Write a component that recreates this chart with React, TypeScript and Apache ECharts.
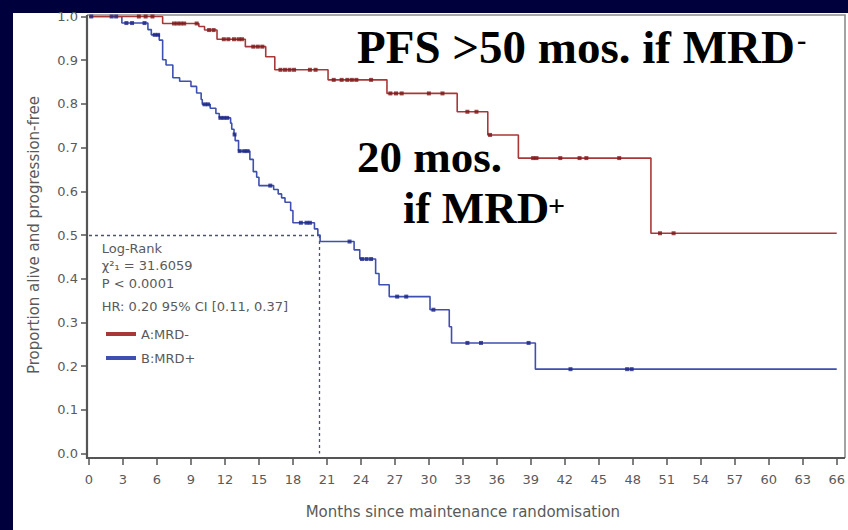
import React, { useEffect, useRef } from "react";
import * as echarts from "echarts";

// ---- Data (Kaplan-Meier PFS by MRD status) ----
const xTickMonths = [0, 66, 3]; // min, max, interval
const yAxisRange = [0, 1, 0.1];

// MRD-negative (A:MRD-): step times (months) and survival after each step
const mrdNegTimes = [0, 6.5, 9.7, 10.2, 11.3, 13.8, 15.6, 16.4, 21.1, 26.3, 32.5, 35.2, 37.9, 49.6, 66];
const mrdNegSurv = [1.0, 0.984, 0.977, 0.969, 0.948, 0.931, 0.908, 0.878, 0.855, 0.824, 0.782, 0.729, 0.676, 0.504, 0.504];
const mrdNegCensored = [4.4, 5.0, 5.6, 7.5, 7.8, 8.1, 8.4, 9.5, 10.6, 11.0, 11.9, 12.3, 12.8, 13.2, 13.5, 14.5, 14.9, 15.3,
  16.9, 17.3, 17.7, 18.1, 19.5, 20.0, 21.6, 22.3, 22.8, 23.2, 23.6, 24.9, 26.6, 27.1, 27.6, 30.0, 31.2, 33.4, 34.2, 35.4,
  39.2, 39.5, 41.6, 43.3, 43.9, 46.8, 50.4, 51.6];

// MRD-positive (B:MRD+)
const mrdPosTimes = [0, 2.9, 5.2, 5.5, 6.2, 6.5, 6.8, 7.4, 8.0, 9.0, 9.5, 9.9, 10.0, 10.7, 11.2, 11.5, 12.5, 12.6, 12.8, 12.9,
  13.2, 14.2, 14.5, 14.8, 15.0, 16.3, 16.7, 17.0, 17.3, 17.8, 18.0, 19.9, 20.2, 20.4, 23.4, 23.9, 25.3, 25.6, 26.5, 30.1,
  31.8, 32.0, 39.4, 66];
const mrdPosSurv = [1.0, 0.985, 0.970, 0.958, 0.946, 0.901, 0.889, 0.860, 0.852, 0.840, 0.825, 0.810, 0.799, 0.790, 0.778, 0.768, 0.756, 0.742, 0.730, 0.716,
  0.692, 0.673, 0.645, 0.632, 0.613, 0.604, 0.594, 0.585, 0.575, 0.556, 0.528, 0.514, 0.500, 0.485, 0.466, 0.445, 0.412, 0.386, 0.359, 0.329,
  0.290, 0.253, 0.193, 0.193];
const mrdPosCensored = [0.2, 2.0, 2.4, 3.3, 3.8, 4.9, 5.8, 6.1, 10.2, 10.5, 11.6, 11.9, 12.2, 12.85, 13.3, 13.7, 14.0, 16.0,
  18.7, 19.2, 19.5, 23.0, 24.1, 24.5, 24.9, 27.2, 28.0, 30.4, 33.4, 34.6, 38.8, 42.5, 47.5, 47.9];

const medianMrdPos = 20.3;
const medianLevel = 0.5;

const seriesNames = ["A:MRD-", "B:MRD+"];
const statLines = ["Log-Rank", "χ²₁ = 31.6059", "P < 0.0001", "HR: 0.20 95% CI [0.11, 0.37]"];
const xAxisTitle = "Months since maintenance randomisation";
const yAxisTitle = "Proportion alive and progression-free";
const noteTop = "PFS >50 mos. if MRD";
const noteTopSup = "-";
const noteMid = "20 mos.";
const noteLow = "if MRD";
const noteLowSup = "+";

function survAt(times: number[], surv: number[], t: number) {
  let v = surv[0];
  for (let i = 0; i < times.length; i++) {
    if (times[i] <= t) v = surv[i];
  }
  return v;
}

const RED = "#a83838";
const RED_DARK = "#7a1818";
const BLUE = "#3f4fb0";
const BLUE_DARK = "#1c2585";
const GRAY_TXT = "#5a5a5a";
const SANS = "DejaVu Sans";
const SERIF = "Liberation Serif";

function txt(x: number, y: number, text: string, size: number, opts: any = {}) {
  return {
    type: "text",
    x,
    y,
    silent: true,
    style: {
      text,
      fill: opts.fill || GRAY_TXT,
      fontSize: size,
      fontFamily: opts.family || SANS,
      fontWeight: opts.weight || "normal",
      lineHeight: opts.lineHeight || undefined,
      align: opts.align || "left",
      verticalAlign: "middle",
      textAlign: opts.align || "left",
      textVerticalAlign: "middle",
    },
  };
}

export default function App() {
  const ref = useRef<HTMLDivElement>(null);

  useEffect(() => {
    if (!ref.current) return;
    const chart = echarts.init(ref.current, undefined, { renderer: "svg" });

    const negLine = mrdNegTimes.map((t, i) => [t, mrdNegSurv[i]]);
    const posLine = mrdPosTimes.map((t, i) => [t, mrdPosSurv[i]]);
    const negCens = mrdNegCensored.map((t) => [t, survAt(mrdNegTimes, mrdNegSurv, t)]);
    const posCens = mrdPosCensored.map((t) => [t, survAt(mrdPosTimes, mrdPosSurv, t)]);

    const big = { family: SERIF, weight: "bold", fill: "#000", lineHeight: 34 };
    const sup = { family: SERIF, weight: "bold", fill: "#000", lineHeight: 18 };

    const option: any = {
      animation: false,
      backgroundColor: "transparent",
      grid: { left: 89, right: 5, top: 16.5, bottom: 76.5, containLabel: false },
      xAxis: {
        type: "value",
        min: xTickMonths[0],
        max: xTickMonths[1],
        interval: xTickMonths[2],
        offset: 4.5,
        name: xAxisTitle,
        nameLocation: "middle",
        nameGap: 46,
        nameTextStyle: { fontFamily: SANS, fontSize: 15, color: GRAY_TXT },
        axisLine: { show: false, onZero: false },
        axisTick: { show: true, length: 7, lineStyle: { color: "#555", width: 1.5 } },
        axisLabel: { margin: 15, fontFamily: SANS, fontSize: 13, color: GRAY_TXT },
        splitLine: { show: false },
      },
      yAxis: {
        type: "value",
        min: yAxisRange[0],
        max: yAxisRange[1],
        interval: yAxisRange[2],
        offset: 2,
        name: yAxisTitle,
        nameLocation: "middle",
        nameGap: 46,
        nameTextStyle: { fontFamily: SANS, fontSize: 15, color: GRAY_TXT },
        axisLine: { show: false, onZero: false },
        axisTick: { show: true, length: 6, lineStyle: { color: "#555", width: 1.5 } },
        axisLabel: {
          margin: 9,
          fontFamily: SANS,
          fontSize: 13,
          color: GRAY_TXT,
          formatter: (v: number) => v.toFixed(1),
        },
        splitLine: { show: false },
      },
      legend: {
        data: seriesNames,
        orient: "vertical",
        left: 101,
        top: 321,
        itemWidth: 30,
        itemHeight: 4,
        itemGap: 8,
        icon: "rect",
        selectedMode: false,
        textStyle: { fontFamily: SANS, fontSize: 13, color: GRAY_TXT, lineHeight: 16 },
      },
      series: [
        {
          name: seriesNames[1],
          type: "line",
          step: "end",
          data: posLine,
          showSymbol: false,
          color: BLUE,
          lineStyle: { color: BLUE, width: 1.6 },
          z: 3,
          markLine: {
            silent: true,
            symbol: ["none", "none"],
            label: { show: false },
            lineStyle: { color: "#4a5078", type: [3, 3], width: 1.3 },
            data: [
              [{ coord: [0, medianLevel] }, { coord: [medianMrdPos, medianLevel] }],
              [{ coord: [medianMrdPos, medianLevel] }, { coord: [medianMrdPos, 0] }],
            ],
          },
        },
        {
          name: seriesNames[0],
          type: "line",
          step: "end",
          data: negLine,
          showSymbol: false,
          color: RED,
          lineStyle: { color: RED, width: 1.6 },
          z: 3,
        },
        {
          name: "censorPos",
          type: "scatter",
          data: posCens,
          symbol: "rect",
          symbolSize: [4, 4],
          itemStyle: { color: BLUE_DARK },
          z: 4,
        },
        {
          name: "censorNeg",
          type: "scatter",
          data: negCens,
          symbol: "rect",
          symbolSize: [4, 4],
          itemStyle: { color: RED_DARK },
          z: 4,
        },
      ],
      graphic: [
        {
          type: "polyline",
          silent: true,
          shape: { points: [[87, 15], [845, 15], [845, 458]] },
          style: { stroke: "#8c8c8c", lineWidth: 1.6, fill: null },
        },
        {
          type: "polyline",
          silent: true,
          shape: { points: [[87, 15], [87, 458], [845, 458]] },
          style: { stroke: "#555555", lineWidth: 2.2, fill: null },
        },
        txt(101.7, 248, statLines[0], 13),
        txt(101.7, 265.5, statLines[1], 13),
        txt(101.7, 283.5, statLines[2], 13),
        txt(101.7, 306, statLines[3], 13),
        txt(357, 47, noteTop, 47, big),
        txt(797, 39, noteTopSup, 28, sup),
        txt(357, 157, noteMid, 45, big),
        txt(403, 207.5, noteLow, 45, big),
        txt(548, 205, noteLowSup, 30, sup),
      ],
    };

    chart.setOption(option);
    return () => chart.dispose();
  }, []);

  return (
    <div style={{ position: "fixed", left: 0, top: 0, width: 848, height: 530, background: "#00003c", overflow: "hidden" }}>
      <div style={{ position: "absolute", left: 13, top: 13, right: 0, bottom: 0, background: "#ffffff" }} />
      <div ref={ref} style={{ position: "absolute", left: 0, top: 0, width: 848, height: 530 }} />
    </div>
  );
}
